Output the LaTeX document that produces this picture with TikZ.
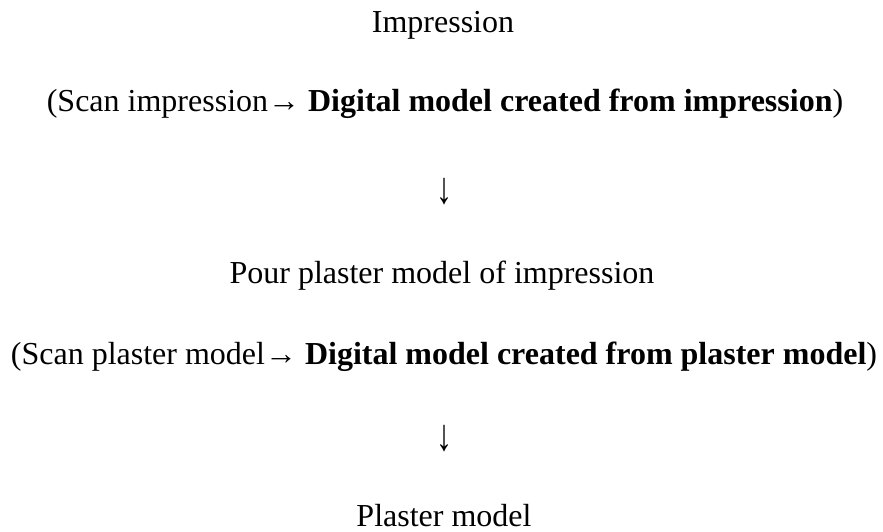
\documentclass[tikz,border=0pt]{standalone}
\usepackage{fontspec}
\setmainfont{Liberation Serif}
\begin{document}
\begin{tikzpicture}[x=1pt,y=-1pt,every node/.style={anchor=base,inner sep=0pt,font=\fontsize{32}{38}\selectfont}]
        \useasboundingbox (0,0) rectangle (883,532);
        \node (imp) at (443,33) {Impression};
        \node (scanimp) at (445,112) {(Scan impression→ \textbf{Digital model created from impression})};
        \node[yscale=1.4] (down1) at (444,203) {↓};
        \node (pour) at (442,283) {Pour plaster model of impression};
        \node (scanpl) at (444,364) {(Scan plaster model→ \textbf{Digital model created from plaster model})};
        \node[yscale=1.4] (down2) at (444,450) {↓};
        \node (plaster) at (444,526) {Plaster model};
    \end{tikzpicture}
\end{document}
